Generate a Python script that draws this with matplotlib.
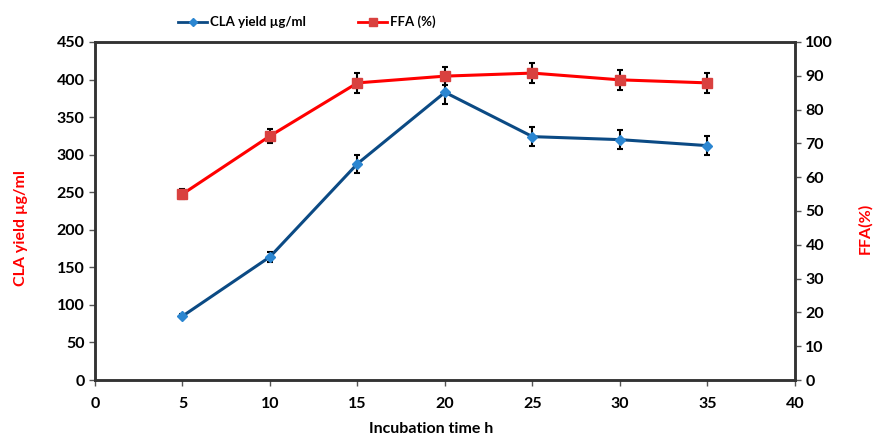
import matplotlib
matplotlib.use("Agg")
import matplotlib.pyplot as plt
from matplotlib.lines import Line2D

plt.rcParams['font.family'] = ['Lato', 'DejaVu Sans']
plt.rcParams['font.weight'] = 'bold'

# data
hours = [5, 10, 15, 20, 25, 30, 35]
cla_yield = [85, 164, 288, 383, 324, 320, 312]
cla_err = [3, 7, 12, 15, 13, 13, 13]
ffa = [55, 72.2, 87.9, 89.9, 90.8, 88.8, 87.9]
ffa_err = [1.5, 2.2, 3, 2.7, 3, 3, 3]

blue_line = '#0b4a84'
blue_mark = '#2b86d1'
red_line = '#ff0000'
red_mark = '#d9413f'

fig = plt.figure(figsize=(8.77, 4.41), dpi=100)
ax = fig.add_axes([0.1083, 0.1383, 0.7982, 0.7665])
ax2 = ax.twinx()

ax.errorbar(hours, cla_yield, yerr=cla_err, color=blue_line, lw=2.2,
            marker='D', ms=5, mfc=blue_mark, mec=blue_mark,
            ecolor='black', elinewidth=1.5, capsize=2.5, capthick=1.5, zorder=3)
ax2.errorbar(hours, ffa, yerr=ffa_err, color=red_line, lw=2.2,
             marker='s', ms=7, mfc=red_mark, mec=red_mark,
             ecolor='black', elinewidth=1.5, capsize=2.5, capthick=1.5, zorder=3)

ax.set_xlim(0, 40)
ax.set_ylim(0, 450)
ax2.set_ylim(0, 100)
ax.set_xticks(range(0, 41, 5))
ax.set_yticks(range(0, 451, 50))
ax2.set_yticks(range(0, 101, 10))

for a in (ax, ax2):
    for s in a.spines.values():
        s.set_color('#333333')
        s.set_linewidth(1.8)
    a.tick_params(direction='out', length=4, width=1, colors='#555555',
                  labelcolor='black', labelsize=11.5)
ax.tick_params(axis='x', pad=8)

ax.set_xlabel('Incubation time h', fontsize=11.5, fontweight='bold')
ax.set_ylabel('CLA yield µg/ml', fontsize=11.5, fontweight='bold', color='red')
ax2.set_ylabel('FFA(%)', fontsize=11.5, fontweight='bold', color='red')
ax.xaxis.set_label_coords(0.48, -0.125)
ax.yaxis.set_label_coords(-0.095, 0.45)
ax2.yaxis.set_label_coords(1.09, 0.45)

handles = [
    Line2D([], [], color=blue_line, lw=2, marker='D', ms=4, mfc=blue_mark, mec=blue_mark),
    Line2D([], [], color=red_line, lw=2, marker='s', ms=6, mfc=red_mark, mec=red_mark),
]
fig.legend(handles, ['CLA yield µg/ml', 'FFA (%)'], loc='center',
           bbox_to_anchor=(0.35, 0.95), ncol=2, frameon=False,
           fontsize=9.5, handlelength=2.2, handletextpad=0.2, columnspacing=4)

fig.savefig('out.png', dpi=100)
